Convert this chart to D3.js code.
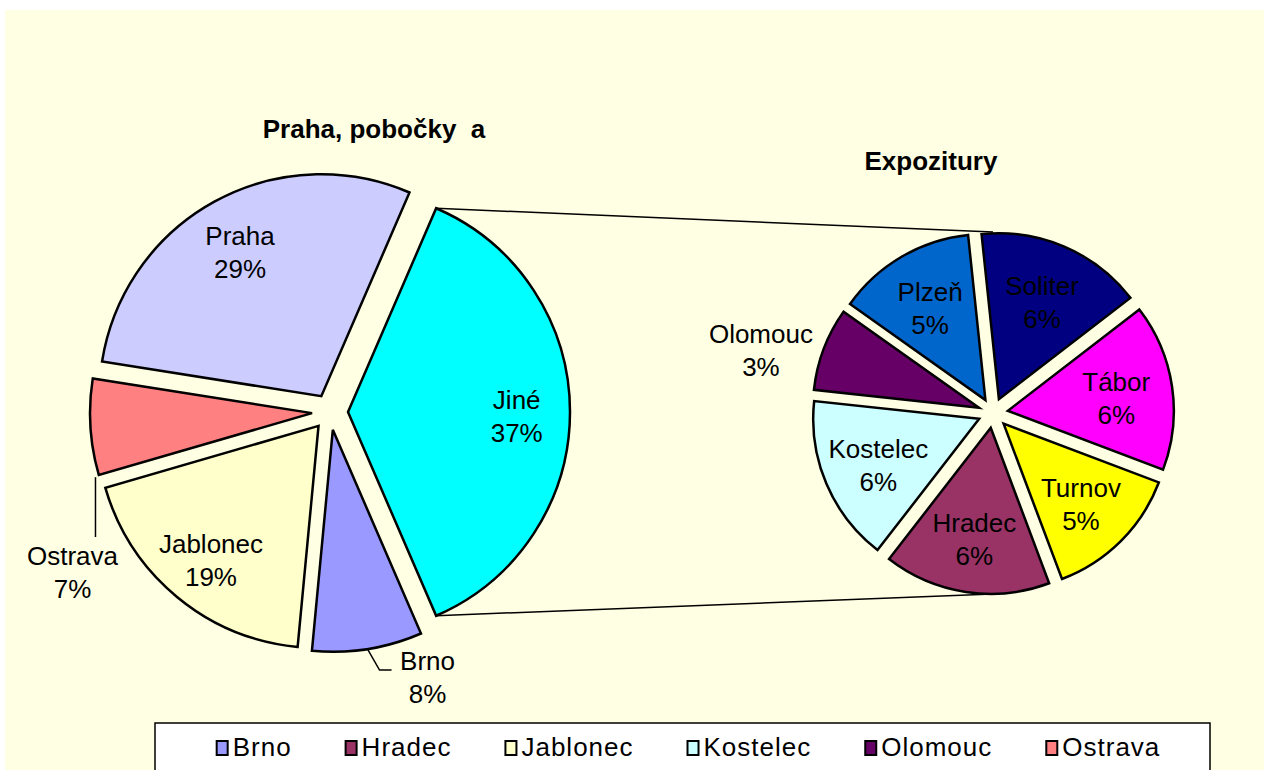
<!DOCTYPE html>
<html>
<head>
<meta charset="utf-8">
<script src="https://cdn.jsdelivr.net/npm/d3@7"></script>
<style>
  body { margin: 0; background: #fff; }
  text { font-family: "Liberation Sans", Arial, sans-serif; }
</style>
</head>
<body>
  <script>
    // main pie (Jiné = the part split out into the second pie)
    const mainCats = ["Jiné", "Brno", "Jablonec", "Ostrava", "Praha"];
    const mainVals = [37, 8, 19, 7, 29];
    const mainColors = ["#00FFFF", "#9999FF", "#FFFFCC", "#FF8080", "#CCCCFF"];

    // second pie (Expozitury)
    const subCats = ["Soliter", "Tábor", "Turnov", "Hradec", "Kostelec", "Olomouc", "Plzeň"];
    const subVals = [6, 6, 5, 6, 6, 3, 5];
    const subColors = ["#000080", "#FF00FF", "#FFFF00", "#993366", "#CCFFFF", "#660066", "#0066CC"];

    // only the first legend row is visible in the picture
    const legendCats = ["Brno", "Hradec", "Jablonec", "Kostelec", "Olomouc", "Ostrava"];

    const w = 1264;
    const h = 770;
    const total = d3.sum(mainVals);
    const colorOf = {};
    mainCats.forEach((c, i) => colorOf[c] = mainColors[i]);
    subCats.forEach((c, i) => colorOf[c] = subColors[i]);

    const svg = d3.select("body")
                  .append("svg")
                  .attr("width", w)
                  .attr("height", h);

    svg.append("rect")
       .attr("x", 5).attr("y", 10)
       .attr("width", w - 5).attr("height", h - 10)
       .attr("fill", "#FFFFE3");

    const fs = 26;
    const pct = v => Math.round(v / total * 100) + "%";

    const c1 = {x: 330, y: 412, r: 222, ex: 18};
    const c2 = {x: 993, y: 413, r: 166, ex: 15};

    const s1 = Math.PI / 2 - mainVals[0] / total * Math.PI;
    const pie1 = d3.pie().sort(null).startAngle(s1).endAngle(s1 + 2 * Math.PI);
    const s2 = -6 * Math.PI / 180;
    const pie2 = d3.pie().sort(null).startAngle(s2).endAngle(s2 + 2 * Math.PI);

    const arcs1 = pie1(mainVals);
    const arcs2 = pie2(subVals);

    function vertex(c, a) {
      const m = (a.startAngle + a.endAngle) / 2;
      return [c.x + c.ex * Math.sin(m), c.y - c.ex * Math.cos(m)];
    }
    function polar(p, r, ang) {
      return [p[0] + r * Math.sin(ang), p[1] - r * Math.cos(ang)];
    }

    // connector lines (under the pies)
    const jine = arcs1[0];
    const jv = vertex(c1, jine);
    const topA = polar(jv, c1.r, jine.startAngle);
    const botA = polar(jv, c1.r, jine.endAngle);
    const topB = [c2.x, c2.y - c2.r - c2.ex];
    const botB = [c2.x, c2.y + c2.r + c2.ex];
    [[topA, topB], [botA, botB]].forEach(seg => {
      svg.append("path")
         .attr("d", d3.line()(seg))
         .attr("stroke", "#000").attr("stroke-width", 1.5).attr("fill", "none");
    });

    function drawPie(c, arcs, cats) {
      const arc = d3.arc().innerRadius(0).outerRadius(c.r);
      svg.append("g").selectAll("path")
         .data(arcs)
         .enter()
         .append("path")
         .attr("transform", d => `translate(${vertex(c, d)})`)
         .attr("d", arc)
         .attr("fill", (d, i) => colorOf[cats[i]])
         .attr("stroke", "#000")
         .attr("stroke-width", 2.5);
    }
    drawPie(c1, arcs1, mainCats);
    drawPie(c2, arcs2, subCats);

    function label(x, y, name, value) {
      const t = svg.append("text")
                   .attr("text-anchor", "middle")
                   .attr("font-size", fs)
                   .attr("fill", "#000");
      t.append("tspan").attr("x", x).attr("y", y - 6).text(name);
      t.append("tspan").attr("x", x).attr("y", y + 27).text(value);
    }
    function leader(pts) {
      svg.append("path").attr("d", d3.line()(pts))
         .attr("stroke", "#000").attr("stroke-width", 1.5).attr("fill", "none");
    }

    // labels of the left pie
    arcs1.forEach((a, i) => {
      const v = vertex(c1, a);
      const m = (a.startAngle + a.endAngle) / 2;
      const name = mainCats[i];
      if (name === "Ostrava") {
        const p = polar(v, c1.r, a.startAngle - 0.01);
        const q = [p[0] - 4, 537];
        leader([[q[0], p[1]], q]);
        label(q[0] - 23, q[1] + 34, name, pct(mainVals[i]));
      } else if (name === "Brno") {
        const p = polar(v, c1.r, m);
        const q = [p[0] + 12, p[1] + 21];
        const e = [q[0] + 12, q[1]];
        leader([p, q, e]);
        label(e[0] + 36, e[1] + 6, name, pct(mainVals[i]));
      } else {
        const p = polar(v, c1.r * 0.76, m);
        label(p[0], p[1] + 3, name, pct(mainVals[i]));
      }
    });

    // labels of the right pie
    arcs2.forEach((a, i) => {
      const v = vertex(c2, a);
      const m = (a.startAngle + a.endAngle) / 2;
      const name = subCats[i];
      if (name === "Olomouc") {
        const p = polar(v, c2.r * 1.36, m - 0.1);
        label(p[0], p[1], name, pct(subVals[i]));
      } else {
        const p = polar(v, c2.r * 0.66, m);
        label(p[0], p[1] + 2, name, pct(subVals[i]));
      }
    });

    // titles
    svg.append("text")
       .attr("x", 374).attr("y", 138)
       .attr("text-anchor", "middle")
       .attr("font-size", 26).attr("font-weight", "bold")
       .style("white-space", "pre")
       .text("Praha, pobočky  a");
    svg.append("text")
       .attr("x", 931).attr("y", 170)
       .attr("text-anchor", "middle")
       .attr("font-size", 26).attr("font-weight", "bold")
       .text("Expozitury");

    // legend box, cut by the bottom edge as in the original
    const lg = {x: 155, y: 723, w: 1055, h: 80};
    svg.append("rect")
       .attr("x", lg.x).attr("y", lg.y)
       .attr("width", lg.w).attr("height", lg.h)
       .attr("fill", "#fff").attr("stroke", "#000").attr("stroke-width", 1.5);

    const g = svg.append("g");
    let x = 0;
    legendCats.forEach(c => {
      const it = g.append("g").attr("transform", `translate(${x},0)`);
      it.append("rect")
        .attr("x", 0).attr("y", -15).attr("width", 11).attr("height", 14)
        .attr("fill", colorOf[c]).attr("stroke", "#000").attr("stroke-width", 2);
      const t = it.append("text")
        .attr("x", 16).attr("y", 0)
        .attr("font-size", fs)
        .attr("letter-spacing", 1)
        .text(c);
      x += 16 + t.node().getComputedTextLength() + 54;
    });
    const rowW = x - 54;
    g.attr("transform", `translate(${lg.x + (lg.w - rowW) / 2 + 6},${lg.y + 33})`);
  </script>
</body>
</html>
